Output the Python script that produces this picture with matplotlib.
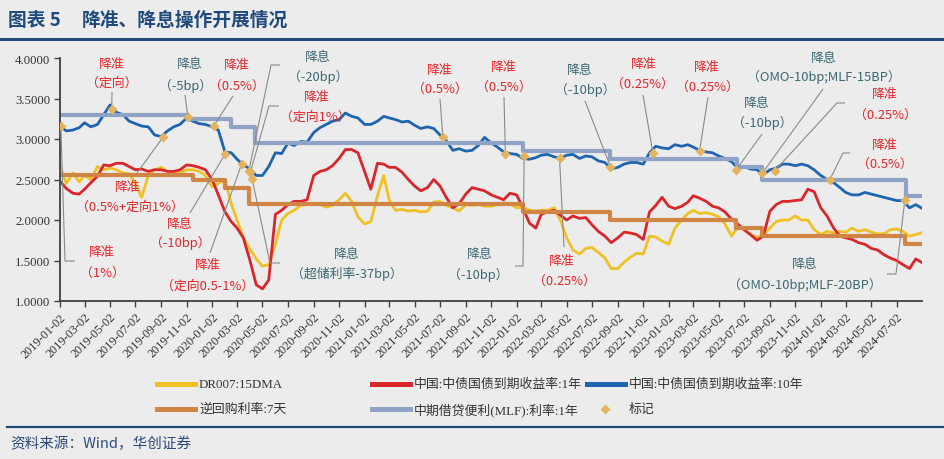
import matplotlib
matplotlib.use("Agg")
import matplotlib.pyplot as plt
import matplotlib.dates as mdates
import pandas as pd
from matplotlib.lines import Line2D

# ---------------- data ----------------
# semi-monthly observation dates (2nd and 17th of each month) + last day
obs_dates = [f"{y}-{m:02d}-{d:02d}" for y in range(2019, 2025) for m in range(1, 13)
             for d in (2, 17) if (y, m) <= (2024, 8)] + ["2024-08-30"]

cgb10y = [3.16, 3.10, 3.11, 3.14, 3.20, 3.15, 3.18, 3.30, 3.42, 3.33, 3.30, 3.22,
          3.19, 3.16, 3.15, 3.05, 3.03, 3.10, 3.15, 3.18, 3.26, 3.22, 3.19, 3.18,
          3.15, 3.11, 2.84, 2.83, 2.75, 2.68, 2.63, 2.55, 2.55, 2.66, 2.83, 2.82,
          2.95, 2.92, 2.97, 2.96, 3.08, 3.14, 3.18, 3.22, 3.24, 3.32, 3.28, 3.26,
          3.18, 3.18, 3.22, 3.28, 3.26, 3.24, 3.21, 3.22, 3.17, 3.13, 3.15, 3.13,
          3.05, 2.98, 2.86, 2.88, 2.85, 2.86, 2.92, 3.02, 2.95, 2.90, 2.84, 2.82,
          2.81, 2.76, 2.75, 2.77, 2.80, 2.81, 2.78, 2.76, 2.80, 2.81, 2.76, 2.79,
          2.78, 2.73, 2.71, 2.63, 2.65, 2.69, 2.71, 2.71, 2.69, 2.83, 2.91, 2.89,
          2.88, 2.93, 2.91, 2.93, 2.90, 2.86, 2.84, 2.83, 2.79, 2.76, 2.72, 2.64,
          2.66, 2.63, 2.62, 2.56, 2.62, 2.64, 2.69, 2.69, 2.67, 2.69, 2.67, 2.62,
          2.55, 2.50, 2.46, 2.40, 2.34, 2.31, 2.31, 2.34, 2.32, 2.30, 2.28, 2.26,
          2.24, 2.24, 2.15, 2.19, 2.15]

cgb1y = [2.48, 2.39, 2.33, 2.32, 2.38, 2.46, 2.54, 2.68, 2.67, 2.70, 2.70, 2.66,
         2.62, 2.63, 2.60, 2.62, 2.62, 2.60, 2.60, 2.62, 2.68, 2.67, 2.65, 2.62,
         2.50, 2.31, 2.10, 1.98, 1.90, 1.78, 1.50, 1.20, 1.15, 1.26, 2.07, 2.12,
         2.19, 2.23, 2.23, 2.25, 2.55, 2.60, 2.62, 2.67, 2.76, 2.87, 2.87, 2.83,
         2.60, 2.38, 2.70, 2.69, 2.65, 2.65, 2.59, 2.50, 2.42, 2.36, 2.40, 2.50,
         2.42, 2.28, 2.15, 2.20, 2.32, 2.40, 2.38, 2.36, 2.31, 2.28, 2.25, 2.33,
         2.31, 2.15, 1.96, 1.90, 2.07, 2.10, 2.12, 2.06, 2.00, 2.05, 2.02, 2.03,
         1.94, 1.86, 1.80, 1.72, 1.78, 1.85, 1.84, 1.82, 1.76, 2.10, 2.18, 2.28,
         2.17, 2.14, 2.17, 2.22, 2.30, 2.27, 2.23, 2.17, 2.15, 2.10, 2.01, 1.95,
         1.88, 1.82, 1.75, 1.80, 2.11, 2.19, 2.23, 2.23, 2.24, 2.25, 2.38, 2.35,
         2.15, 2.05, 1.90, 1.80, 1.78, 1.76, 1.72, 1.70, 1.65, 1.63, 1.57, 1.53,
         1.50, 1.45, 1.40, 1.52, 1.48]

dr007 = [2.68, 2.45, 2.58, 2.47, 2.55, 2.50, 2.66, 2.62, 2.64, 2.62, 2.58, 2.57,
         2.45, 2.28, 2.55, 2.62, 2.65, 2.60, 2.60, 2.58, 2.62, 2.62, 2.60, 2.55,
         2.41, 2.45, 2.50, 2.20, 2.00, 1.78, 1.64, 1.52, 1.43, 1.45, 1.70, 2.00,
         2.08, 2.12, 2.18, 2.19, 2.21, 2.19, 2.16, 2.18, 2.25, 2.33, 2.23, 2.04,
         1.95, 1.98, 2.30, 2.55, 2.25, 2.12, 2.13, 2.11, 2.12, 2.10, 2.11, 2.22,
         2.23, 2.18, 2.15, 2.11, 2.19, 2.18, 2.19, 2.17, 2.17, 2.19, 2.21, 2.20,
         2.15, 2.16, 2.12, 2.11, 2.12, 2.12, 2.15, 2.00, 1.78, 1.63, 1.58, 1.65,
         1.66, 1.60, 1.53, 1.40, 1.40, 1.48, 1.54, 1.59, 1.58, 1.80, 1.79, 1.74,
         1.70, 1.90, 2.00, 2.08, 2.12, 2.08, 2.09, 2.07, 2.04, 1.95, 1.80, 1.92,
         1.88, 1.82, 1.79, 1.81, 1.90, 1.98, 2.00, 2.00, 2.05, 2.00, 2.00, 1.88,
         1.82, 1.86, 1.84, 1.86, 1.85, 1.90, 1.86, 1.88, 1.85, 1.83, 1.83, 1.88,
         1.89, 1.86, 1.80, 1.82, 1.84]

omo_dates = ["2019-01-02", "2019-11-18", "2020-02-03", "2020-03-30", "2022-01-17",
             "2022-08-15", "2023-06-13", "2023-08-15", "2024-07-22", "2024-08-30"]
omo_vals = [2.55, 2.50, 2.40, 2.20, 2.10, 2.00, 1.90, 1.80, 1.70, 1.70]

mlf_dates = ["2019-01-02", "2019-11-05", "2020-02-17", "2020-04-15", "2022-01-17",
             "2022-08-15", "2023-06-15", "2023-08-15", "2024-07-25", "2024-08-30"]
mlf_vals = [3.30, 3.25, 3.15, 2.95, 2.85, 2.75, 2.65, 2.50, 2.30, 2.30]

mark_dates = ["2019-01-04", "2019-05-06", "2019-09-06", "2019-11-05", "2020-01-06",
              "2020-02-03", "2020-03-13", "2020-03-30", "2020-04-03", "2020-04-07",
              "2021-07-09", "2021-12-06", "2022-01-20", "2022-04-15", "2022-08-15",
              "2022-11-25", "2023-03-17", "2023-06-13", "2023-08-15", "2023-09-14",
              "2024-01-24", "2024-07-22"]
mark_vals = [3.16, 3.37, 3.02, 3.27, 3.16, 2.82, 2.69, 2.60, 2.59, 2.51, 3.02, 2.82,
             2.79, 2.76, 2.66, 2.83, 2.85, 2.62, 2.58, 2.61, 2.50, 2.25]

tick_dates = [f"{y}-{m:02d}-02" for y in range(2019, 2025) for m in range(1, 13, 2)
              if (y, m) <= (2024, 7)]
y_ticks = [1.0, 1.5, 2.0, 2.5, 3.0, 3.5, 4.0]

legend_labels = ["DR007:15DMA", "中国:中债国债到期收益率:1年", "中国:中债国债到期收益率:10年",
                 "逆回购利率:7天", "中期借贷便利(MLF):利率:1年", "标记"]

RED_T = "#E3262B"
TEAL_T = "#3D6872"
annotations = [
    ("降准", "（1%）", RED_T, (102, 253), (102, 273), [(75, 262), (65, 262)], 0),
    ("降准", "（定向）", RED_T, (112, 65), (112, 83), [(112, 93)], 1),
    ("降准", "（0.5%+定向1%）", RED_T, (128, 188), (130, 207), [(137, 174)], 2),
    ("降息", "（-5bp）", TEAL_T, (190, 65), (186, 86), [(185, 96)], 3),
    ("降准", "（0.5%）", RED_T, (237, 66), (237, 86), [(233, 97)], 4),
    ("降息", "（-10bp）", RED_T, (180, 225), (180, 243), [(190, 214)], 5),
    ("降准", "（定向0.5-1%）", RED_T, (208, 266), (208, 286), [(210, 254)], 6),
    ("降息", "（-20bp）", TEAL_T, (318, 57), (318, 77), [(280, 66), (271, 66)], 7),
    ("降准", "（定向1%）", RED_T, (317, 98), (315, 117), [(279, 107), (269, 107)], 8),
    ("降息", "（超储利率-37bp）", TEAL_T, (347, 255), (347, 274), [(280, 264), (270, 264)], 9),
    ("降准", "（0.5%）", RED_T, (440, 70), (440, 89), [(440, 100)], 10),
    ("降息", "（-10bp）", TEAL_T, (480, 255), (478, 275), [(515, 267), (523, 267)], 12),
    ("降准", "（0.5%）", RED_T, (504, 68), (504, 87), [(504, 98)], 11),
    ("降准", "（0.25%）", RED_T, (562, 262), (564, 281), [(564, 248)], 13),
    ("降息", "（-10bp）", TEAL_T, (580, 70), (585, 90), [(585, 102)], 14),
    ("降准", "（0.25%）", RED_T, (644, 65), (642, 84), [(643, 96)], 15),
    ("降准", "（0.25%）", RED_T, (707, 68), (707, 87), [(708, 98)], 16),
    ("降息", "（-10bp）", TEAL_T, (757, 104), (762, 123), [(762, 135)], 17),
    ("降息", "（OMO-10bp;MLF-15BP）", TEAL_T, (824, 58), (824, 77), [(823, 90)], 18),
    ("降准", "（0.25%）", RED_T, (885, 95), (885, 115), [(845, 104), (837, 104)], 19),
    ("降准", "（0.5%）", RED_T, (885, 146), (885, 164), [(850, 154), (843, 154)], 20),
    ("降息", "（OMO-10bp;MLF-20BP）", TEAL_T, (805, 265), (805, 285), [(887, 275), (896, 275)], 21),
]

# ---------------- style ----------------
BG = "#ECECEC"
C_DR = "#EFC124"
C_1Y = "#D9262B"
C_10Y = "#1E64AE"
C_OMO = "#D08544"
C_MLF = "#8FA3C6"
C_MK = "#E3B35E"
NAVY = "#1F4A7C"
CJK = ["Noto Sans CJK SC", "DejaVu Sans"]
SERIF = ["Liberation Serif", "Noto Sans CJK SC"]

W, H = 944, 460
fig = plt.figure(figsize=(W / 100, H / 100), dpi=100, facecolor=BG)
ax = fig.add_axes([60 / W, 1 - 302 / H, 862 / W, 243 / H], facecolor=BG)

X = pd.to_datetime(obs_dates)
ax.plot(X, dr007, color=C_DR, lw=2.0, zorder=2.0, solid_joinstyle="round")
ax.plot(X, cgb1y, color=C_1Y, lw=2.0, zorder=2.1, solid_joinstyle="round")
ax.plot(X, cgb10y, color=C_10Y, lw=2.0, zorder=2.2, solid_joinstyle="round")
ax.plot(pd.to_datetime(omo_dates), omo_vals, drawstyle="steps-post", color=C_OMO, lw=3.0, zorder=2.3)
ax.plot(pd.to_datetime(mlf_dates), mlf_vals, drawstyle="steps-post", color=C_MLF, lw=3.0, zorder=2.4)
MX = pd.to_datetime(mark_dates)
ax.plot(MX, mark_vals, linestyle="none", marker="D", ms=5.2, color=C_MK, mec="none", zorder=4)

ax.set_xlim(pd.Timestamp("2019-01-02"), pd.Timestamp("2024-09-01"))
ax.set_ylim(1.0, 4.0)
ax.set_yticks(y_ticks)
ax.set_yticklabels([f"{v:.4f}" for v in y_ticks], fontfamily=SERIF, fontsize=9.2, color="#333333")
ax.set_xticks(pd.to_datetime(tick_dates))
ax.set_xticklabels(tick_dates, rotation=45, ha="right", rotation_mode="anchor",
                   fontfamily=SERIF, fontsize=8.8, color="#333333")
ax.tick_params(axis="both", direction="out", length=4, width=1.0, color="#404040", pad=3)
for s in ("top", "right"):
    ax.spines[s].set_visible(False)
for s in ("left", "bottom"):
    ax.spines[s].set_color("#404040")
    ax.spines[s].set_linewidth(1.3)

fig.canvas.draw()
inv = ax.transData.inverted()


def P(x, y):
    return inv.transform((x, H - y))


# annotations with leader lines
for l1, l2, col, p1, p2, pts, mi in annotations:
    d1 = P(*p1)
    d2 = P(*p2)
    ax.text(d1[0], d1[1], l1, color=col, fontsize=9.3, fontfamily=CJK, fontweight="medium",
            ha="center", va="center", zorder=5)
    ax.text(d2[0], d2[1], l2, color=col, fontsize=9.3, fontfamily=CJK, fontweight="medium",
            ha="center", va="center", zorder=5)
    xs, ys = [], []
    for q in pts:
        dq = P(*q)
        xs.append(dq[0])
        ys.append(dq[1])
    xs.append(mdates.date2num(MX[mi]))
    ys.append(mark_vals[mi])
    ax.plot(xs, ys, color="#8A8A8A", lw=0.8, zorder=3, solid_capstyle="butt")

# title and rules
fig.text(8 / W, 1 - 20 / H, "图表 5", fontfamily=CJK, fontsize=13.5, fontweight="bold", color=NAVY, va="center")
fig.text(82 / W, 1 - 20 / H, "降准、降息操作开展情况", fontfamily=CJK, fontsize=13.5, fontweight="bold",
         color=NAVY, va="center")
fig.add_artist(Line2D([0, 1], [1 - 39.5 / H] * 2, color=NAVY, lw=2.2, transform=fig.transFigure))
fig.add_artist(Line2D([7 / W, 1], [1 - 428 / H] * 2, color=NAVY, lw=1.6, transform=fig.transFigure))
fig.text(10 / W, 1 - 444 / H, "资料来源：Wind，华创证券", fontfamily=CJK, fontsize=10.5, color="#2E4A78",
         va="center")

# manual legend
legend_items = [
    (legend_labels[0], C_DR, 157, 385, "line"),
    (legend_labels[1], C_1Y, 372, 385, "line"),
    (legend_labels[2], C_10Y, 587, 385, "line"),
    (legend_labels[3], C_OMO, 157, 410, "line"),
    (legend_labels[4], C_MLF, 372, 410, "line"),
    (legend_labels[5], C_MK, 587, 410, "marker"),
]
for lab, col, x0, y0, kind in legend_items:
    yf = 1 - y0 / H
    if kind == "line":
        fig.add_artist(Line2D([x0 / W, (x0 + 38) / W], [yf, yf], color=col, lw=3.6,
                              transform=fig.transFigure))
    else:
        fig.add_artist(Line2D([(x0 + 18) / W], [yf], marker="D", ms=5.2, color=col, mec="none",
                              linestyle="none", transform=fig.transFigure))
    fig.text((x0 + 42) / W, yf, lab, fontfamily=SERIF, fontsize=9.3, color="#333333", va="center")

fig.savefig("out.png", dpi=100, facecolor=BG)
